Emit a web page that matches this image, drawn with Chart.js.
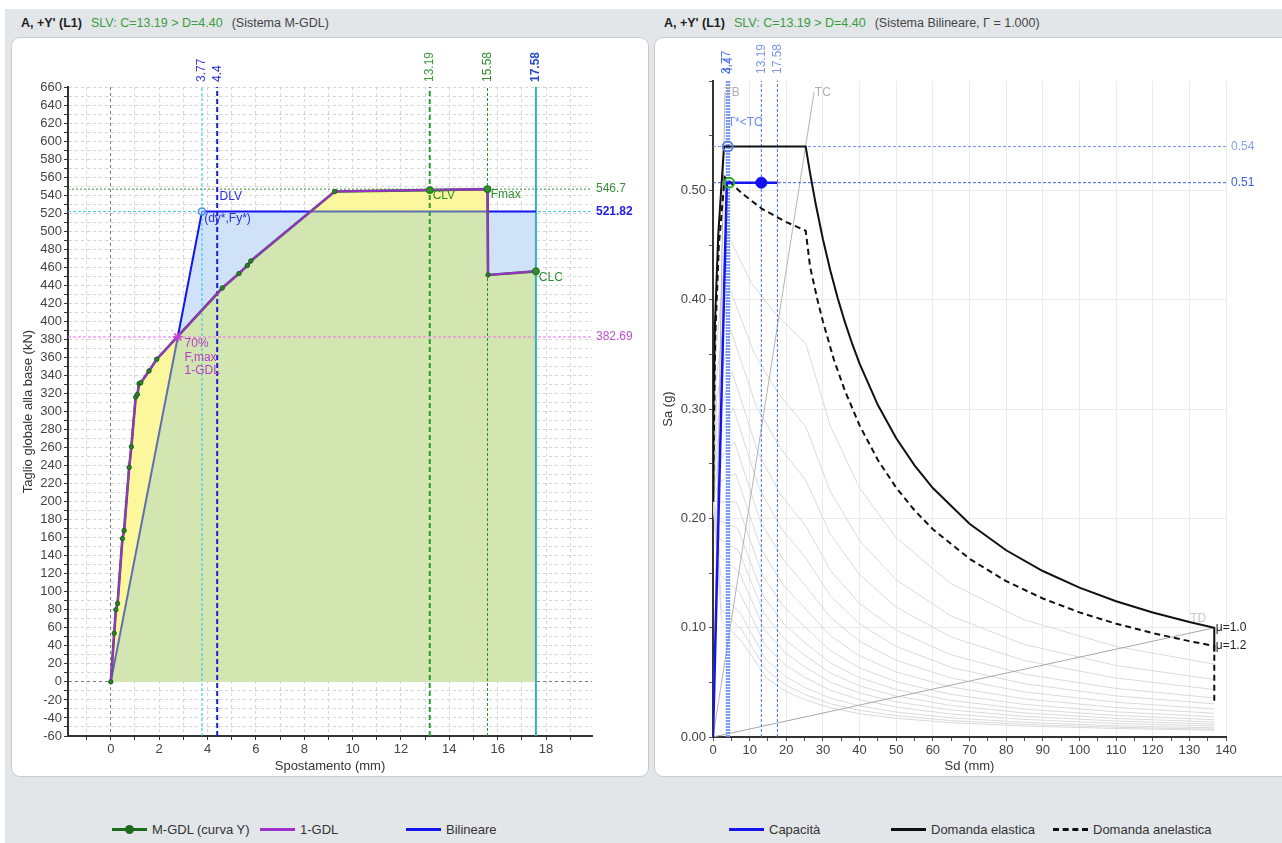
<!DOCTYPE html>
<html lang="it">
<head>
<meta charset="utf-8">
<title>A, +Y' (L1) - curva di capacità e spettro ADRS</title>
<script src="https://cdn.jsdelivr.net/npm/chart.js@4.4.1/dist/chart.umd.min.js"></script>
<style>
  html, body { margin:0; padding:0; background:#fff; width:1282px; height:843px; overflow:hidden;
    font-family:"Liberation Sans", Arial, sans-serif; }
  #fondo { position:absolute; left:5px; top:9px; width:1277px; height:834px; background:#e3e6e9; }
  .tit { position:absolute; top:15px; font-size:12.5px; line-height:16px; color:#444; white-space:nowrap; }
  .tit b { color:#1e1e1e; }
  .tit .slv { color:#3a9d3a; margin-left:9px; }
  .tit .sis { margin-left:9px; }
  .pan { position:absolute; top:37px; height:740px; background:#fff; border:1px solid #c7ccd1;
    border-radius:9px; box-sizing:border-box; }
  canvas { position:absolute; top:37px; }
  .leg { position:absolute; top:822px; font-size:13px; line-height:16px; color:#333; white-space:nowrap; }
  .leg .ln { display:inline-block; position:relative; vertical-align:middle; width:35px; height:0;
    border-top:3px solid; margin-right:5px; margin-top:-2px; }
  .leg .pt { position:absolute; left:13px; top:-6px; width:9px; height:9px; border-radius:50%; }
</style>
</head>
<body>
<div id="fondo"></div>

<div class="tit" style="left:21px"><b>A, +Y' (L1)</b><span class="slv">SLV: C=13.19 &gt; D=4.40</span><span class="sis">(Sistema M-GDL)</span></div>
<div class="tit" style="left:664px"><b>A, +Y' (L1)</b><span class="slv">SLV: C=13.19 &gt; D=4.40</span><span class="sis">(Sistema Bilineare, Γ = 1.000)</span></div>

<div class="pan" style="left:11px;width:638px"></div>
<div class="pan" style="left:654px;width:640px"></div>
<canvas id="graficoMGDL" width="637" height="740" style="left:11px"></canvas>
<canvas id="graficoADRS" width="628" height="740" style="left:654px"></canvas>

<div class="leg" style="left:112px"><span class="ln" style="border-top-color:#1d6b1d"><span class="pt" style="background:#1d6b1d"></span></span>M-GDL (curva Y)</div>
<div class="leg" style="left:260px"><span class="ln" style="border-top-color:#9b30cc"></span>1-GDL</div>
<div class="leg" style="left:406px"><span class="ln" style="border-top-color:#1414ee"></span>Bilineare</div>
<div class="leg" style="left:729px"><span class="ln" style="border-top-color:#1414ee"></span>Capacità</div>
<div class="leg" style="left:891px"><span class="ln" style="border-top-color:#111"></span>Domanda elastica</div>
<div class="leg" style="left:1053px"><span class="ln" style="border-top:3px dashed #111"></span>Domanda anelastica</div>

<script>
// ===== grafico sinistro: curva di capacità (spostamento mm / taglio kN) =====
const spostMGDL  = [0, 0.14, 0.21, 0.28, 0.48, 0.55, 0.76, 0.85, 1.03, 1.1, 1.17, 1.24, 1.58, 1.9, 4.61, 5.3, 5.65, 5.79, 9.26, 13.19, 15.58, 15.6, 17.58];
const taglioMGDL = [0, 54, 80, 87, 159, 168, 238, 261, 316, 319, 331, 332, 345, 358, 437, 453, 462, 467, 544, 545.6, 546.7, 451.5, 455.5];
// 1-GDL (Γ = 1.000)
const spost1GDL  = [0, 0.14, 0.21, 0.28, 0.48, 0.55, 0.76, 0.85, 1.03, 1.1, 1.17, 1.24, 1.58, 1.9, 4.61, 5.3, 5.65, 5.79, 9.26, 13.19, 15.58, 15.6, 17.58];
const taglio1GDL = [0, 54, 80, 87, 159, 168, 238, 261, 316, 319, 331, 332, 345, 358, 437, 453, 462, 467, 544, 545.6, 546.7, 451.5, 455.5];
// bilineare equivalente
const spostBil  = [0, 2.77, 3.77, 8.3, 15.58, 17.58];
const taglioBil = [0, 382.69, 521.82, 521.82, 521.82, 521.82];
// punti notevoli
const nomiPunti = ['CLV', 'Fmax', 'CLC'];
const spostPunti = [13.19, 15.58, 17.58];
const taglioPunti = [545.6, 546.7, 455.5];
const punto70 = [2.77, 382.69];
const puntoSnerv = [3.77, 521.82];
// linee di riferimento
const vertSx = [3.77, 4.4, 13.19, 15.58, 17.58];
const orizSx = [546.7, 521.82, 382.69];
// etichette assi
const etichetteXSx = [0, 2, 4, 6, 8, 10, 12, 14, 16, 18];
const etichetteYSx = [-60, -40, -20, 0, 20, 40, 60, 80, 100, 120, 140, 160, 180, 200, 220, 240, 260, 280, 300,
  320, 340, 360, 380, 400, 420, 440, 460, 480, 500, 520, 540, 560, 580, 600, 620, 640, 660];

// ===== grafico destro: spettro ADRS (Sd mm / Sa g) =====
const sdElastica = [0, 0.10, 0.53, 1.43, 3.0, 25.3, 26.5, 28, 30, 32, 34, 36, 38, 40, 45, 50, 55, 60, 70, 80, 90, 100, 110, 120, 130, 136.8, 136.8];
const saElastica = [0.216, 0.297, 0.378, 0.459, 0.54, 0.54, 0.5155, 0.488, 0.4553, 0.427, 0.4018, 0.3794, 0.3595, 0.3415, 0.3036, 0.2732, 0.2484, 0.2277, 0.1951, 0.1708, 0.1518, 0.1366, 0.1242, 0.1138, 0.1051, 0.0999, 0.078];
const sdAnelastica = [0, 0.61, 1.6, 3.2, 8, 13.4, 20, 25.3, 26.5, 28.5, 30, 33, 36, 40, 45, 50, 55, 60, 70, 80, 90, 100, 110, 120, 130, 136.8, 136.8];
const saAnelastica = [0.216, 0.365, 0.45, 0.512, 0.497, 0.483, 0.471, 0.463, 0.43, 0.40, 0.38, 0.345, 0.3167, 0.285, 0.2533, 0.228, 0.2073, 0.19, 0.163, 0.1425, 0.1267, 0.114, 0.1036, 0.095, 0.0877, 0.0833, 0.031];
const sdCapacita = [0, 3.77, 17.58];
const saCapacita = [0, 0.507, 0.507];
const sdTB = [0, 3.28],  saTB = [0, 0.59];
const sdTC = [0, 27.6],  saTC = [0, 0.59];
const sdTD = [0, 136.8], saTD = [0, 0.0999];
const puntoDomEl = [4.015, 0.54];
const puntoDomAn = [4.4, 0.507];
const puntoCap = [13.19, 0.507];
const vertDx = [3.77, 4.4, 13.19, 17.58];
const orizDx = [0.54, 0.507];
// famiglia di spettri anelastici (grigio)
const grigieSd = [
  [0, 0.73, 3.84, 10.51, 17.35, 25.3, 32, 40, 50, 65, 85, 110, 136.8],
  [0, 0.86, 4.35, 11.24, 17.88, 25.3, 32, 40, 50, 65, 85, 110, 136.8],
  [0, 0.99, 4.77, 11.77, 18.25, 25.3, 32, 40, 50, 65, 85, 110, 136.8],
  [0, 1.12, 5.19, 12.26, 18.58, 25.3, 32, 40, 50, 65, 85, 110, 136.8],
  [0, 1.24, 5.53, 12.63, 18.81, 25.3, 32, 40, 50, 65, 85, 110, 136.8],
  [0, 1.37, 5.86, 12.96, 19.02, 25.3, 32, 40, 50, 65, 85, 110, 136.8],
  [0, 1.49, 6.17, 13.26, 19.19, 25.3, 32, 40, 50, 65, 85, 110, 136.8],
  [0, 1.61, 6.44, 13.51, 19.34, 25.3, 32, 40, 50, 65, 85, 110, 136.8],
  [0, 1.73, 6.70, 13.73, 19.47, 25.3, 32, 40, 50, 65, 85, 110, 136.8],
  [0, 1.84, 6.92, 13.91, 19.57, 25.3, 32, 40, 50, 65, 85, 110, 136.8],
  [0, 1.95, 7.12, 14.08, 19.66, 25.3, 32, 40, 50, 65, 85, 110, 136.8],
  [0, 2.06, 7.32, 14.23, 19.74, 25.3, 32, 40, 50, 65, 85, 110, 136.8],
  [0, 2.18, 7.53, 14.38, 19.83, 25.3, 32, 40, 50, 65, 85, 110, 136.8],
  [0, 2.27, 7.68, 14.49, 19.88, 25.3, 32, 40, 50, 65, 85, 110, 136.8],
  [0, 2.35, 7.79, 14.57, 19.92, 25.3, 32, 40, 50, 65, 85, 110, 136.8]
];
const grigieSa = [
  [0.216, 0.348, 0.461, 0.415, 0.386, 0.36, 0.2846, 0.2277, 0.1821, 0.1401, 0.1071, 0.0828, 0.0666],
  [0.216, 0.327, 0.412, 0.351, 0.314, 0.284, 0.2247, 0.1797, 0.1438, 0.1106, 0.0846, 0.0654, 0.0526],
  [0.216, 0.309, 0.373, 0.303, 0.265, 0.235, 0.1856, 0.1485, 0.1188, 0.0914, 0.0699, 0.054, 0.0434],
  [0.216, 0.289, 0.334, 0.26, 0.221, 0.193, 0.1525, 0.122, 0.0976, 0.0751, 0.0574, 0.0444, 0.0357],
  [0.216, 0.271, 0.301, 0.227, 0.19, 0.164, 0.1293, 0.1035, 0.0828, 0.0637, 0.0487, 0.0376, 0.0303],
  [0.216, 0.252, 0.27, 0.197, 0.163, 0.138, 0.1095, 0.0876, 0.0701, 0.0539, 0.0412, 0.0318, 0.0256],
  [0.216, 0.233, 0.241, 0.171, 0.139, 0.117, 0.0928, 0.0742, 0.0594, 0.0457, 0.0349, 0.027, 0.0217],
  [0.216, 0.215, 0.215, 0.148, 0.119, 0.1, 0.0791, 0.0632, 0.0506, 0.0389, 0.0298, 0.023, 0.0185],
  [0.216, 0.198, 0.191, 0.129, 0.103, 0.0857, 0.0678, 0.0542, 0.0434, 0.0334, 0.0255, 0.0197, 0.0158],
  [0.216, 0.181, 0.171, 0.113, 0.0894, 0.074, 0.0585, 0.0468, 0.0374, 0.0288, 0.022, 0.017, 0.0137],
  [0.216, 0.165, 0.151, 0.0982, 0.0771, 0.0635, 0.0502, 0.0402, 0.0321, 0.0247, 0.0189, 0.0146, 0.0117],
  [0.216, 0.148, 0.132, 0.0844, 0.0659, 0.054, 0.0427, 0.0342, 0.0273, 0.021, 0.0161, 0.0124, 0.01],
  [0.216, 0.131, 0.113, 0.0711, 0.0551, 0.045, 0.0356, 0.0285, 0.0228, 0.0175, 0.0134, 0.0103, 0.0083],
  [0.216, 0.117, 0.0987, 0.0614, 0.0474, 0.0386, 0.0305, 0.0244, 0.0195, 0.015, 0.0115, 0.0089, 0.0071],
  [0.216, 0.106, 0.0877, 0.054, 0.0415, 0.0338, 0.0267, 0.0213, 0.0171, 0.0131, 0.01, 0.0078, 0.0062]
];
const etichetteXDx = [0, 10, 20, 30, 40, 50, 60, 70, 80, 90, 100, 110, 120, 130, 140];
const etichetteYDx = [0, 0.1, 0.2, 0.3, 0.4, 0.5];

// ---------------------------------------------------------------
const FONT = '"Liberation Sans", Arial, sans-serif';
Chart.defaults.font.family = FONT;
Chart.defaults.font.size = 13;
Chart.defaults.color = '#444';

function pts(xs, ys) {
  return xs.map((x, i) => ({x: x, y: ys[i]}));
}
function inLista(lista, v) {
  return lista.some(e => Math.abs(e - v) < 1e-9);
}
function passi(da, a, passo) {
  const out = [];
  for (let i = 0; da + i * passo <= a + 1e-9; i++) out.push({value: Math.round((da + i * passo) * 1000) / 1000});
  return out;
}

// scritte: valori delle linee di riferimento e note nel grafico
const scritte = {
  id: 'scritte',
  afterDatasetsDraw(chart, args, o) {
    const ctx = chart.ctx, a = chart.chartArea;
    const sx = chart.scales.x, sy = chart.scales.y;
    ctx.save();
    ctx.textBaseline = 'middle';
    (o.vert || []).forEach(e => {
      ctx.save();
      ctx.translate(sx.getPixelForValue(e.v), a.top - o.gapTop);
      ctx.rotate(-Math.PI / 2);
      ctx.font = (e.b ? 'bold ' : '') + o.size + 'px ' + FONT;
      ctx.fillStyle = e.c;
      ctx.textAlign = 'left';
      ctx.fillText(e.t, 0, 0);
      ctx.restore();
    });
    (o.oriz || []).forEach(e => {
      ctx.font = (e.b ? 'bold ' : '') + o.size + 'px ' + FONT;
      ctx.fillStyle = e.c;
      ctx.textAlign = 'left';
      ctx.fillText(e.t, a.right + o.gapRight, sy.getPixelForValue(e.v));
    });
    (o.note || []).forEach(e => {
      ctx.font = '12px ' + FONT;
      ctx.fillStyle = e.c;
      ctx.textAlign = e.al || 'left';
      ctx.fillText(e.t, sx.getPixelForValue(e.x), sy.getPixelForValue(e.y));
    });
    ctx.restore();
  }
};

// ===== grafico M-GDL =====
const Y_MIN_SX = -60, Y_MAX_SX = 660;
const stileVertSx = [
  {c: '#22c3ee', w: 1, d: [3, 2], tc: '#3b3bf0'},
  {c: '#1c1ce0', w: 2, d: [5, 3], tc: '#2626d8'},
  {c: '#2e9b2e', w: 2, d: [5, 3], tc: '#3a9d3a'},
  {c: '#2a8a2a', w: 1, d: [3, 2], tc: '#2f8f2f'},
  {c: '#2ab3c2', w: 2, d: [],     tc: '#2a48c8'}
];
const stileOrizSx = [
  {c: '#3b8e3b', w: 1, d: [2, 2], tc: '#3b8e3b'},
  {c: '#42c6ef', w: 1, d: [3, 2], tc: '#2020e8'},
  {c: '#ef6ef0', w: 1, d: [3, 2], tc: '#c050d0'}
];

const datiSx = [];
vertSx.forEach((v, i) => datiSx.push({
  data: [{x: v, y: Y_MIN_SX}, {x: v, y: Y_MAX_SX}], showLine: true, pointRadius: 0,
  borderColor: stileVertSx[i].c, borderWidth: stileVertSx[i].w, borderDash: stileVertSx[i].d, order: 20
}));
orizSx.forEach((v, i) => datiSx.push({
  data: [{x: -1.77, y: v}, {x: 19.9, y: v}], showLine: true, pointRadius: 0,
  borderColor: stileOrizSx[i].c, borderWidth: stileOrizSx[i].w, borderDash: stileOrizSx[i].d, order: 20
}));
// area sotto la bilineare (solo riempimento, un unico segmento)
const idxBil = datiSx.length;
datiSx.push({
  data: pts(spostBil, taglioBil), showLine: true, pointRadius: 0,
  borderWidth: 0, borderColor: 'rgba(0,0,0,0)', fill: 'origin', backgroundColor: '#d3e6b2', order: 12
});
datiSx.push({
  label: 'Bilineare', data: pts(spostBil, taglioBil), showLine: true, pointRadius: 0,
  borderColor: '#1414ee', borderWidth: 2, order: 10,
  segment: { borderColor: c => (c.p0DataIndex === 0 || c.p0DataIndex === 3) ? '#5f70b0' : undefined }
});
datiSx.push({
  label: '1-GDL', data: pts(spost1GDL, taglio1GDL), showLine: true, pointRadius: 0,
  borderColor: '#9b30cc', borderWidth: 2, order: 5,
  fill: {target: idxBil, above: '#fcf79c', below: '#cfe2f7'}
});
datiSx.push({
  label: 'M-GDL (curva Y)', data: pts(spostMGDL, taglioMGDL), showLine: true, pointRadius: 0,
  borderColor: '#2a6a2a', borderWidth: 2.6, order: 6
});
datiSx.push({
  data: pts(spostMGDL, taglioMGDL), showLine: false, pointRadius: 2.2,
  pointBackgroundColor: '#2f7f2f', pointBorderColor: '#1e5e1e', pointBorderWidth: 1, order: 4
});
datiSx.push({
  data: pts(spostPunti, taglioPunti), showLine: false, pointRadius: 3.5,
  pointBackgroundColor: '#2e8f2e', pointBorderColor: '#1f6f1f', pointBorderWidth: 1, order: 2
});
datiSx.push({
  data: [{x: punto70[0], y: punto70[1]}], showLine: false, pointStyle: 'star', pointRadius: 5,
  pointBorderColor: '#c040d0', pointBorderWidth: 1.5, order: 1
});
datiSx.push({
  data: [{x: puntoSnerv[0], y: puntoSnerv[1]}], showLine: false, pointRadius: 3.5,
  pointBackgroundColor: 'rgba(255,255,255,0.5)', pointBorderColor: '#3b8ff0', pointBorderWidth: 1.5, order: 1
});

new Chart(document.getElementById('graficoMGDL'), {
  type: 'scatter',
  data: { datasets: datiSx },
  plugins: [scritte],
  options: {
    responsive: false, animation: false, events: [],
    layout: { padding: {left: 6, right: 56, top: 50, bottom: 3} },
    plugins: {
      legend: {display: false}, tooltip: {enabled: false},
      filler: {drawTime: 'beforeDatasetsDraw'},
      scritte: {
        size: 12, gapTop: 5, gapRight: 4,
        vert: vertSx.map((v, i) => ({v: v, t: String(v), c: stileVertSx[i].tc, b: i === 4})),
        oriz: orizSx.map((v, i) => ({v: v, t: String(v), c: stileOrizSx[i].tc, b: i === 1})),
        note: [
          {x: 4.5, y: 538, t: 'DLV', c: '#2b2bea'},
          {x: 3.86, y: 514, t: '(dy*,Fy*)', c: '#2b2bea'},
          {x: 3.05, y: 375, t: '70%', c: '#b43cc8'},
          {x: 3.05, y: 360, t: 'F,max', c: '#b43cc8'},
          {x: 3.05, y: 345, t: '1-GDL', c: '#b43cc8'},
          {x: 13.31, y: 539, t: nomiPunti[0], c: '#2f8f2f'},
          {x: 15.71, y: 540, t: nomiPunti[1], c: '#2f8f2f'},
          {x: 17.7, y: 448, t: nomiPunti[2], c: '#2f8f2f'}
        ]
      }
    },
    scales: {
      x: {
        type: 'linear', min: -1.77, max: 19.9,
        afterBuildTicks: s => { s.ticks = passi(-1, 19, 1); },
        afterFit: s => { s.height = 38; },
        ticks: { autoSkip: false, maxRotation: 0, padding: 2, color: '#444',
          callback: v => inLista(etichetteXSx, v) ? String(v) : '' },
        grid: { color: c => c.tick && c.tick.value === 0 ? '#7a7a7a' : '#d5d5d5', tickColor: '#333', tickLength: 4 },
        border: { color: '#333', width: 2, dash: [3, 3] },
        title: { display: true, text: 'Spostamento (mm)', color: '#333', padding: 0 }
      },
      y: {
        type: 'linear', min: Y_MIN_SX, max: Y_MAX_SX,
        afterBuildTicks: s => { s.ticks = passi(-60, 660, 10); },
        afterFit: s => { s.width = 51; },
        ticks: { autoSkip: false, padding: 2, color: '#444',
          callback: v => inLista(etichetteYSx, v) ? String(v) : '' },
        grid: { color: c => c.tick && c.tick.value === 0 ? '#7a7a7a' : '#d5d5d5', tickColor: '#333', tickLength: 4 },
        border: { color: '#333', width: 2, dash: [3, 3] },
        title: { display: true, text: 'Taglio globale alla base (kN)', color: '#333', padding: {top: 4, bottom: 0} }
      }
    }
  }
});

// ===== grafico ADRS =====
const stileVertDx = [
  {c: '#6d8ff0', w: 2, d: [2, 1], tc: '#4f73e6'},
  {c: '#6d8ff0', w: 2, d: [2, 1], tc: '#4f73e6'},
  {c: '#4a70ec', w: 1, d: [3, 2], tc: '#7d9be9'},
  {c: '#4a70ec', w: 1, d: [3, 2], tc: '#7d9be9'}
];
const stileOrizDx = [
  {c: '#6d8ff0', w: 1, d: [3, 2], tc: '#8aa3ea'},
  {c: '#3d62e0', w: 1, d: [3, 2], tc: '#3c60dc'}
];

const datiDx = [];
grigieSd.forEach((sd, i) => datiDx.push({
  data: pts(sd, grigieSa[i]), showLine: true, pointRadius: 0,
  borderColor: '#dadada', borderWidth: 1, order: 30
}));
[[sdTB, saTB, '#b4b4b4'], [sdTC, saTC, '#b4b4b4'], [sdTD, saTD, '#a8a8a8']].forEach(r => datiDx.push({
  data: pts(r[0], r[1]), showLine: true, pointRadius: 0, borderColor: r[2], borderWidth: 1, order: 25
}));
vertDx.forEach((v, i) => datiDx.push({
  data: [{x: v, y: 0}, {x: v, y: 0.6}], showLine: true, pointRadius: 0,
  borderColor: stileVertDx[i].c, borderWidth: stileVertDx[i].w, borderDash: stileVertDx[i].d, order: 20
}));
orizDx.forEach((v, i) => datiDx.push({
  data: [{x: 0, y: v}, {x: 140, y: v}], showLine: true, pointRadius: 0,
  borderColor: stileOrizDx[i].c, borderWidth: stileOrizDx[i].w, borderDash: stileOrizDx[i].d, order: 20
}));
datiDx.push({
  label: 'Domanda elastica', data: pts(sdElastica, saElastica), showLine: true, pointRadius: 0,
  borderColor: '#111', borderWidth: 2, order: 8
});
datiDx.push({
  label: 'Domanda anelastica', data: pts(sdAnelastica, saAnelastica), showLine: true, pointRadius: 0,
  borderColor: '#111', borderWidth: 2, borderDash: [6, 4], order: 7
});
datiDx.push({
  label: 'Capacità', data: pts(sdCapacita, saCapacita), showLine: true, pointRadius: 0,
  borderColor: '#1414f0', borderWidth: 2.5, order: 5
});
datiDx.push({
  data: [{x: puntoDomEl[0], y: puntoDomEl[1]}], showLine: false, pointRadius: 5,
  pointBackgroundColor: 'rgba(255,255,255,0)', pointBorderColor: '#5b7fe8', pointBorderWidth: 2, order: 2
});
datiDx.push({
  data: [{x: puntoDomAn[0], y: puntoDomAn[1]}], showLine: false, pointRadius: 5,
  pointBackgroundColor: 'rgba(255,255,255,0)', pointBorderColor: '#22aa22', pointBorderWidth: 2, order: 2
});
datiDx.push({
  data: [{x: puntoCap[0], y: puntoCap[1]}], showLine: false, pointRadius: 5.5,
  pointBackgroundColor: '#1010f0', pointBorderColor: '#1010f0', pointBorderWidth: 1, order: 1
});

new Chart(document.getElementById('graficoADRS'), {
  type: 'scatter',
  data: { datasets: datiDx },
  plugins: [scritte],
  options: {
    responsive: false, animation: false, events: [],
    layout: { padding: {left: 3, right: 56, top: 44, bottom: 3} },
    plugins: {
      legend: {display: false}, tooltip: {enabled: false},
      scritte: {
        size: 12, gapTop: 7, gapRight: 5,
        vert: vertDx.map((v, i) => ({v: v, t: String(v), c: stileVertDx[i].tc, b: false})),
        oriz: orizDx.map((v, i) => ({v: v, t: v.toFixed(2), c: stileOrizDx[i].tc, b: false})),
        note: [
          {x: 4.0, y: 0.5617, t: 'T*<TC', c: '#6d8ff0'},
          {x: 3.1, y: 0.589, t: 'TB', c: '#b0b0b0'},
          {x: 27.8, y: 0.589, t: 'TC', c: '#b0b0b0'},
          {x: 134.6, y: 0.1086, t: 'TD', c: '#c8c8c8', al: 'right'},
          {x: 137.2, y: 0.1, t: 'μ=1.0', c: '#222'},
          {x: 137.2, y: 0.0833, t: 'μ=1.2', c: '#222'}
        ]
      }
    },
    scales: {
      x: {
        type: 'linear', min: 0, max: 140,
        afterBuildTicks: s => { s.ticks = passi(0, 140, 5); },
        afterFit: s => { s.height = 37; },
        ticks: { autoSkip: false, maxRotation: 0, padding: 2, color: '#444',
          callback: v => inLista(etichetteXDx, v) ? String(v) : '' },
        grid: { color: c => c.tick && inLista(etichetteXDx, c.tick.value) ? '#ebebeb' : 'rgba(0,0,0,0)',
          tickColor: '#555', tickLength: 4 },
        border: { color: '#333', width: 2 },
        title: { display: true, text: 'Sd (mm)', color: '#333', padding: 0 }
      },
      y: {
        type: 'linear', min: 0, max: 0.6,
        afterBuildTicks: s => { s.ticks = passi(0, 0.6, 0.05); },
        afterFit: s => { s.width = 56; },
        ticks: { autoSkip: false, padding: 3, color: '#444',
          callback: v => inLista(etichetteYDx, v) ? v.toFixed(2) : '' },
        grid: { color: c => c.tick && inLista(etichetteYDx, c.tick.value) ? '#ebebeb' : 'rgba(0,0,0,0)',
          tickColor: '#555', tickLength: 4 },
        border: { color: '#333', width: 2 },
        title: { display: true, text: 'Sa (g)', color: '#333', padding: {top: 4, bottom: 0} }
      }
    }
  }
});
</script>
</body>
</html>
